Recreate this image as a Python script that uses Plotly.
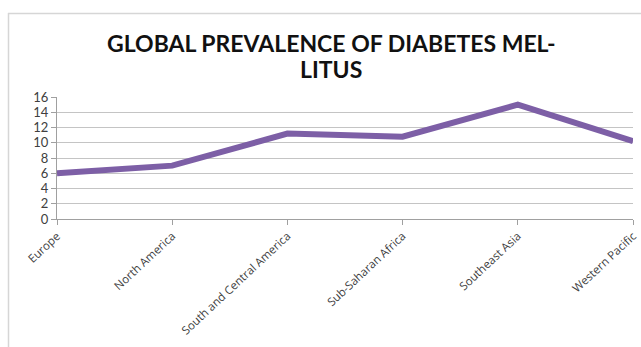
import plotly.graph_objects as go

regions = ["Europe", "North America", "South and Central America",
           "Sub-Saharan Africa", "Southeast Asia", "Western Pacific"]
prevalence = [6.0, 7.0, 11.2, 10.8, 15.0, 10.2]
y_ticks = [0, 2, 4, 6, 8, 10, 12, 14, 16]
title_lines = ["GLOBAL PREVALENCE OF DIABETES MEL-", "LITUS"]

W, H = 641, 347
ML, MR, MT, MB = 57, 8, 97, 128
pw = W - ML - MR
ph = H - MT - MB

def px_x(p):
    return (p - ML) / pw

def px_y(p):
    return (H - MB - p) / ph

fig = go.Figure()
fig.add_trace(go.Scatter(
    x=regions, y=prevalence, mode="lines",
    line=dict(color="#7D5FA6", width=6),
    hoverinfo="skip", showlegend=False,
))

title_font = dict(family="Lato", size=23, color="#111111", weight="bold")
annotations = [
    dict(text=title_lines[0], xref="paper", yref="paper",
         x=px_x(331), y=px_y(43), xanchor="center", yanchor="middle",
         showarrow=False, font=title_font),
    dict(text=title_lines[1], xref="paper", yref="paper",
         x=px_x(331), y=px_y(68.5), xanchor="center", yanchor="middle",
         showarrow=False, font=title_font),
]

border = "#d6d6d6"
fig.update_layout(
    width=W, height=H,
    margin=dict(l=ML, r=MR, t=MT, b=MB, autoexpand=False),
    paper_bgcolor="white", plot_bgcolor="white",
    annotations=annotations,
    xaxis=dict(
        type="category", range=[0, len(regions) - 1],
        showgrid=False, showline=True, linecolor="#a0a0a0", linewidth=1,
        ticks="outside", ticklen=5, tickcolor="#a0a0a0",
        tickangle=-43, automargin=False,
        tickfont=dict(family="Open Sans", size=11.5, color="#404040"),
        fixedrange=True,
    ),
    yaxis=dict(
        range=[0, 16], tickvals=y_ticks,
        showgrid=True, gridcolor="#c4c4c4", gridwidth=1,
        showline=True, linecolor="#a0a0a0", linewidth=1,
        ticks="outside", ticklen=5, tickcolor="#a0a0a0",
        tickfont=dict(family="Lato", size=13, color="#404040"),
        zeroline=False, fixedrange=True, automargin=False,
    ),
    shapes=[
        dict(type="line", xref="paper", yref="paper",
             x0=px_x(8), x1=px_x(W + 5), y0=px_y(13.5), y1=px_y(13.5),
             line=dict(color=border, width=1.5)),
        dict(type="line", xref="paper", yref="paper",
             x0=px_x(8.5), x1=px_x(8.5), y0=px_y(13), y1=px_y(H + 5),
             line=dict(color=border, width=1.5)),
    ],
)

fig.write_html("out.html")
